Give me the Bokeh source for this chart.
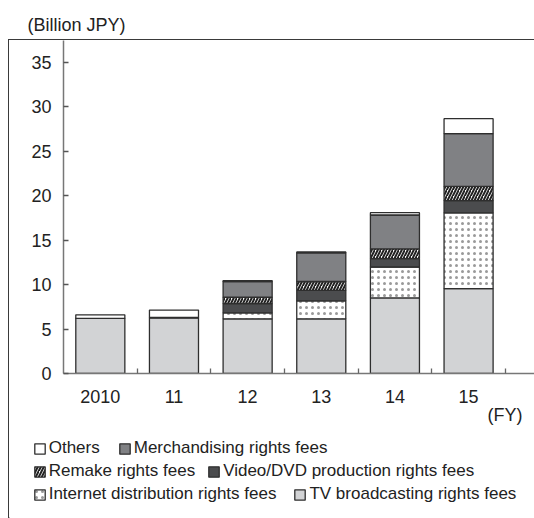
from bokeh.plotting import figure
from bokeh.layouts import column
from bokeh.models import (ColumnDataSource, Range1d, FixedTicker, Legend,
                          LegendItem, Label)
from bokeh.embed import file_html
from bokeh.resources import INLINE

# ---- data (Billion JPY) ----
years = ["2010", "11", "12", "13", "14", "15"]
tv_broadcasting = [6.2, 6.3, 6.15, 6.15, 8.5, 9.55]
internet_distribution = [0.0, 0.0, 0.68, 2.03, 3.48, 8.52]
video_dvd = [0.0, 0.0, 1.04, 1.16, 0.94, 1.38]
remake = [0.0, 0.0, 0.71, 1.01, 1.09, 1.61]
merchandising = [0.0, 0.0, 1.77, 3.23, 3.82, 5.93]
others = [0.4, 0.84, 0.1, 0.1, 0.26, 1.68]
y_ticks = [0, 5, 10, 15, 20, 25, 30, 35]

stackers = ["tv", "internet", "video", "remake", "merch", "others"]
labels = {
    "tv": "TV broadcasting rights fees",
    "internet": "Internet distribution rights fees",
    "video": "Video/DVD production rights fees",
    "remake": "Remake rights fees",
    "merch": "Merchandising rights fees",
    "others": "Others",
}
fills = ["#d2d3d5", "white", "#4b4c4e", "white", "#808184", "white"]
hatches = ["blank", "dot", "blank", "right_diagonal_line", "blank", "blank"]
hatch_colors = ["#555555", "#9a9a9a", "#555555", "#222222", "#555555", "#555555"]
hatch_scales = [6, 6, 6, 6, 6, 6]
hatch_weights = [1, 0.8, 1, 2.0, 1, 1]

FONT = "Liberation Sans"
TXT = "#222222"
FRAME = "#3a3a3a"

xs = [i + 0.5 for i in range(len(years))]
src = ColumnDataSource(dict(x=xs, tv=tv_broadcasting, internet=internet_distribution,
                            video=video_dvd, remake=remake, merch=merchandising,
                            others=others))

# ---- unit label strip above the boxed area ----
ptitle = figure(width=534, height=39, output_backend="svg", toolbar_location=None,
                x_range=Range1d(0, 1), y_range=Range1d(0, 1),
                min_border_left=27, min_border_right=0, min_border_top=36,
                min_border_bottom=0, title="(Billion JPY)")
ptitle.axis.visible = False
ptitle.grid.visible = False
ptitle.outline_line_color = None
ptitle.title.align = "left"
ptitle.title.offset = 0
ptitle.title.standoff = 2.5
ptitle.title.text_font = FONT
ptitle.title.text_font_size = "18px"
ptitle.title.text_font_style = "normal"
ptitle.title.text_color = TXT

# ---- main chart ----
p = figure(width=525, height=366, output_backend="svg", toolbar_location=None,
           x_range=Range1d(0, 6.395), y_range=Range1d(0, 37.46),
           min_border_left=54, min_border_right=0, min_border_top=0,
           min_border_bottom=33)
p.grid.visible = False
p.outline_line_color = None

rs = p.vbar_stack(
    stackers, x="x", width=0.666, source=src,
    fill_color=fills, line_color="#2e2e2e", line_width=1.3,
    hatch_pattern=hatches, hatch_color=hatch_colors,
    hatch_scale=hatch_scales, hatch_weight=hatch_weights,
)

xa = p.xaxis[0]
xa.ticker = FixedTicker(ticks=xs, minor_ticks=[1, 2, 3, 4, 5, 6])
xa.major_label_overrides = {x: y for x, y in zip(xs, years)}
xa.major_tick_line_color = None
xa.minor_tick_in = 5
xa.minor_tick_out = 0
xa.minor_tick_line_color = "#666666"
xa.minor_tick_line_width = 1.3
xa.axis_line_color = "#777777"
xa.axis_line_width = 1.5
xa.major_label_standoff = 10
xa.major_label_text_font = FONT
xa.major_label_text_font_size = "18px"
xa.major_label_text_color = TXT

ya = p.yaxis[0]
ya.ticker = FixedTicker(ticks=y_ticks)
ya.minor_tick_line_color = None
ya.major_tick_in = 5
ya.major_tick_out = 0
ya.major_tick_line_color = "#555555"
ya.major_tick_line_width = 1.3
ya.axis_line_color = "#777777"
ya.axis_line_width = 1.5
ya.major_label_standoff = 12
ya.major_label_text_font = FONT
ya.major_label_text_font_size = "18px"
ya.major_label_text_color = TXT

# ---- legend strip ----
pl = figure(width=525, height=112, output_backend="svg", toolbar_location=None,
            x_range=Range1d(0, 525), y_range=Range1d(0, 112),
            min_border_left=0, min_border_right=0, min_border_top=0,
            min_border_bottom=0)
pl.axis.visible = False
pl.grid.visible = False
pl.outline_line_color = None

# legend swatch proxies (off-range, zero height)
lrs = {}
for i, k in enumerate(stackers):
    lrs[k] = pl.vbar(x=[-100], top=[0], width=1, fill_color=fills[i], line_color="#2e2e2e",
                     line_width=1.3, hatch_pattern=hatches[i], hatch_color=hatch_colors[i],
                     hatch_scale=hatch_scales[i], hatch_weight=hatch_weights[i])

rows = [(["others", "merch"], 18, 58.5), (["remake", "video"], 12, 35.5),
        (["internet", "tv"], 17, 12.5)]
for keys, sp, yoff in rows:
    items = [LegendItem(label=labels[k], renderers=[lrs[k]]) for k in keys]
    lg = Legend(items=items, orientation="horizontal", location=(23.7, yoff),
                glyph_width=13, glyph_height=13, label_standoff=3, spacing=sp,
                padding=0, margin=0, border_line_color=None, background_fill_alpha=0,
                label_text_font=FONT, label_text_font_size="17px",
                label_text_color=TXT, label_height=23)
    pl.add_layout(lg)

pl.add_layout(Label(x=513, y=104, text="(FY)", text_align="right", text_baseline="middle",
                    text_font=FONT, text_font_size="18px", text_color=TXT))

boxed = column(p, column(pl), margin=(0, 0, 0, 8),
               styles={"border-left": f"1.5px solid {FRAME}",
                       "border-top": f"1.5px solid {FRAME}"})
layout = column(ptitle, boxed)

open("out.html", "w").write(file_html(layout, INLINE))
